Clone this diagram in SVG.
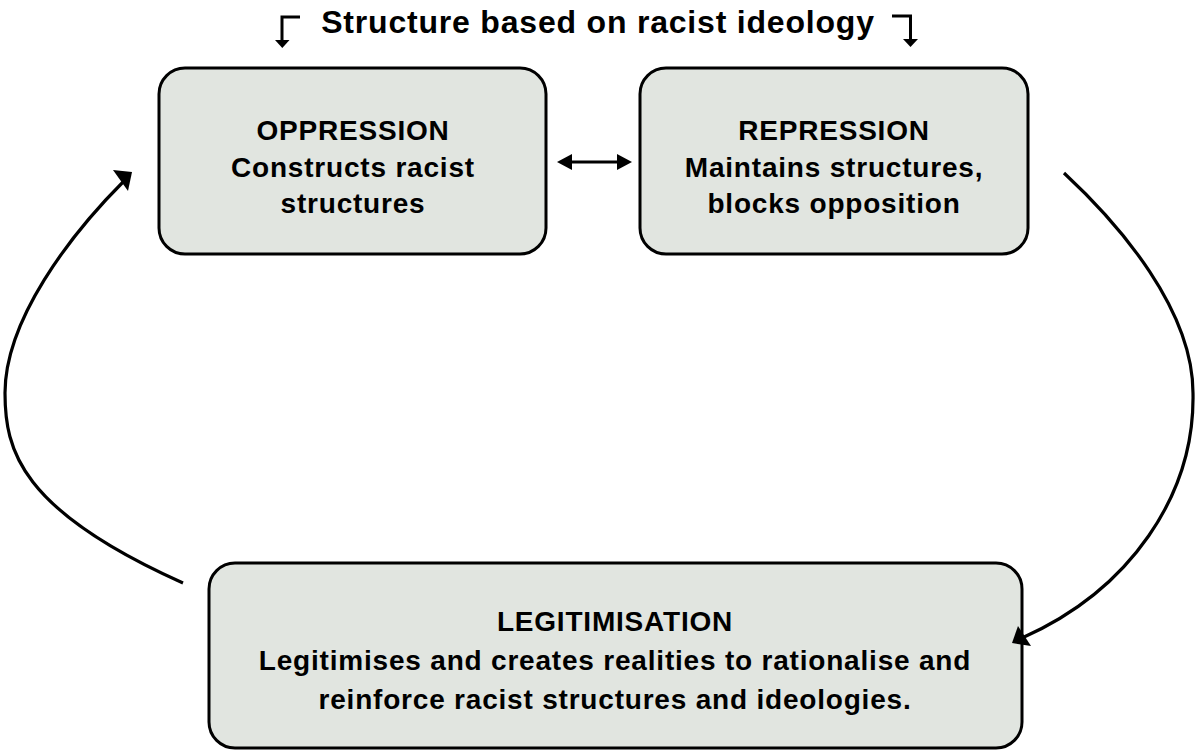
<svg xmlns="http://www.w3.org/2000/svg" width="1195" height="754" viewBox="0 0 1195 754">
<style>
.box{fill:#e1e5e0;stroke:#000;stroke-width:3}
.t{font-family:"Liberation Sans",Arial,sans-serif;font-weight:bold;font-size:28px;fill:#000;text-anchor:middle;letter-spacing:0.8px}
.title{font-family:"Liberation Sans",Arial,sans-serif;font-weight:bold;font-size:32px;fill:#000;text-anchor:middle;letter-spacing:0.8px}
.c{fill:none;stroke:#000;stroke-width:3.2}
.b{fill:none;stroke:#000;stroke-width:3}
.h{fill:#000;stroke:none}
</style>
<rect width="1195" height="754" fill="#fff"/>
<g id="title">
<text class="title" x="598" y="33">Structure based on racist ideology</text>
<path class="b" d="M300,17 H282 V40"/>
<path class="h" d="M275,40 L289.5,40 L282.3,48 Z"/>
<path class="b" d="M892,16 H910.5 V39"/>
<path class="h" d="M903,39 L918,39 L910.5,47 Z"/>
</g>
<g id="oppression">
<rect class="box" x="159" y="68" width="387" height="186" rx="26"/>
<text class="t" x="353" y="140">OPPRESSION</text>
<text class="t" x="353" y="177">Constructs racist</text>
<text class="t" x="353" y="213">structures</text>
</g>
<g id="repression">
<rect class="box" x="640" y="68" width="388" height="186" rx="26"/>
<text class="t" x="834" y="140">REPRESSION</text>
<text class="t" x="834" y="177">Maintains structures,</text>
<text class="t" x="834" y="213">blocks opposition</text>
</g>
<g id="legitimisation">
<rect class="box" x="209" y="563" width="813" height="185" rx="26"/>
<text class="t" x="615" y="631">LEGITIMISATION</text>
<text class="t" x="615" y="670">Legitimises and creates realities to rationalise and</text>
<text class="t" x="615" y="709">reinforce racist structures and ideologies.</text>
</g>
<g id="connectors">
<line x1="568" y1="162" x2="621" y2="162" stroke="#000" stroke-width="3"/>
<path class="h" d="M557,162 L572,154 L572,170 Z"/>
<path class="h" d="M632,162 L617,154 L617,170 Z"/>
<path class="c" d="M183,583 C20,510 5,450 5,393 C5,320 70,235 124,181"/>
<path class="h" d="M132,172 L113,170 L128,191 Z"/>
<path class="c" d="M1064,173 C1120,225 1193,310 1193,393 C1195,495 1130,590 1022,638"/>
<path class="h" d="M1012,643 L1018,626 L1031,646 Z"/>
</g>
</svg>
